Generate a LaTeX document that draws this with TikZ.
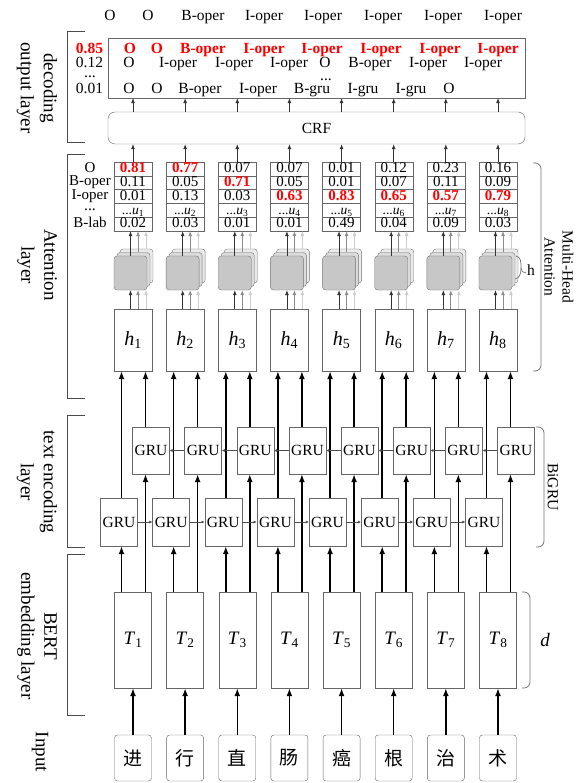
\documentclass[tikz,border=0pt]{standalone}
\usepackage{fontspec}
\setmainfont{Liberation Serif}
\newfontfamily\cjk{Noto Sans CJK SC}
\usetikzlibrary{arrows.meta}

\newcommand{\best}[1]{{\color{red}\bfseries #1}}

\tikzset{
  cell/.style={draw=black!60, fill=white, inner sep=0pt, minimum width=37pt,
    font=\fontsize{15.5}{16}\selectfont},
  grubox/.style={cell, minimum height=48pt},
  charbox/.style={cell, rounded corners=3pt, minimum height=46pt,
    font=\fontsize{19}{20}\selectfont\cjk},
  vecbox/.style={cell, minimum height=96pt, font=\fontsize{19}{20}\selectfont},
  hidbox/.style={cell, minimum width=38pt, minimum height=62pt,
    font=\fontsize{20}{20}\selectfont},
  headbox/.style={draw=black!55, fill=black!22, rounded corners=3pt,
    minimum width=33pt, minimum height=34pt, inner sep=0pt},
  probcell/.style={cell, minimum width=38pt, minimum height=13.8pt,
    text height=9.5pt, text depth=2pt, font=\fontsize{15}{15}\selectfont},
  txt/.style={inner sep=0pt, text height=10.5pt, text depth=3pt,
    font=\fontsize{15.5}{16}\selectfont},
  dots/.style={txt, anchor=base, text height=2pt, text depth=0pt},
  rowname/.style={inner sep=0pt, text height=9pt, text depth=2.5pt,
    font=\fontsize{15}{15}\selectfont},
  mainarrow/.style={-{Latex[length=8pt,width=6pt]}, line width=1.5pt},
  thinarrow/.style={-{Latex[length=5pt,width=4pt]}, line width=0.7pt, black!80},
  linkarrow/.style={-{Latex[length=3pt,width=3pt]}, line width=0.6pt, black!70},
  lbracket/.style={draw=black!70, line width=0.8pt},
  rbrace/.style={draw=black!55, line width=0.8pt, rounded corners=6pt},
  sidelabel/.style={rotate=-90, align=center, inner sep=0pt,
    font=\fontsize{19}{23}\selectfont},
}

\begin{document}
\begin{tikzpicture}[x=1pt,y=-1pt]
  % Parameters of the grid (y grows downward, like the page)
  \def\colA{133} % centre of the first column
  \def\colStep{52.14} % distance between neighbouring columns
  \useasboundingbox (0,0) rectangle (579,783);

  % CRF and the decoding output box
  \node[draw=black!60, rounded corners=7pt, minimum width=417pt, minimum height=32pt,
    font=\fontsize{15.5}{16}\selectfont] (crf) at (316.5,128) {CRF};
  \node[draw=black!60, minimum width=417pt, minimum height=60pt] (out) at (316.5,68) {};

  % Columns: input character, BERT vector, two GRUs, hidden state, heads
  \foreach \ch [count=\i] in {进,行,直,肠,癌,根,治,术}{
    \pgfmathsetmacro{\cx}{\colA+(\i-1)*\colStep}
    \coordinate (L\i) at (\cx-11.5,0); % forward path
    \coordinate (R\i) at (\cx+12.5,0); % backward path
    \coordinate (A\i) at (\cx-2.5,0); % head 1
    \coordinate (B\i) at (\cx+5,0); % head 2
    \coordinate (C\i) at (\cx+13,0); % head 3
    \coordinate (M\i) at (\cx,0); % to CRF and output
    \node[charbox] (in\i) at (\cx,758) {\ch};
    \node[vecbox] (T\i) at (\cx,640) {\textit{T}\textsubscript{\i}};
    \node[grubox] (fw\i) at (\cx-14,522) {GRU};
    \node[grubox, minimum height=47pt] (bw\i) at (\cx+18,450.5) {GRU};
    \node[hidbox] (h\i) at (\cx,340) {\textit{h}\textsubscript{\i}};
    \node[headbox, fill=black!8] (hc\i) at (\cx+3.5,266) {};
    \node[headbox, fill=black!14] (hb\i) at (\cx+0.5,269.5) {};
    \node[headbox] (ha\i) at (\cx-2.5,273) {};
    \draw[mainarrow] (in\i) -- (T\i);
    \draw[mainarrow] (L\i |- T\i.north) -- (L\i |- fw\i.south);
    \draw[mainarrow] (R\i |- T\i.north) -- (R\i |- bw\i.south);
    \draw[mainarrow] (L\i |- fw\i.north) -- (L\i |- h\i.south);
    \draw[mainarrow] (R\i |- bw\i.north) -- (R\i |- h\i.south);
    \draw[thinarrow] (A\i |- h\i.north) -- (A\i |- ha\i.south);
    \draw[thinarrow, black!45] (B\i |- h\i.north) -- (B\i |- ha\i.south);
    \draw[thinarrow, black!20] (C\i |- h\i.north) -- (C\i |- ha\i.south);
    \draw[thinarrow] (M\i |- crf.north) -- (M\i |- out.south);
  }

  % GRU chains (forward to the right, backward to the left)
  \foreach \i in {1,...,7}{
    \pgfmathtruncatemacro{\j}{\i+1}
    \draw[linkarrow] (fw\i) -- (fw\j);
    \draw[linkarrow] (bw\j) -- (bw\i);
  }

  % Attention scores (rows: O, B-oper, I-oper, ..., B-lab)
  \foreach \pa/\pb/\pc/\pe [count=\i] in {\best{0.81}/0.11/0.01/0.02,
      \best{0.77}/0.05/0.13/0.03, 0.07/\best{0.71}/0.03/0.01,
      0.07/0.05/\best{0.63}/0.01, 0.01/0.01/\best{0.83}/0.49,
      0.12/0.07/\best{0.65}/0.04, 0.23/0.11/\best{0.57}/0.09,
      0.16/0.09/\best{0.79}/0.03}{
    \pgfmathsetmacro{\cx}{\colA+(\i-1)*\colStep}
    \node[probcell] (p\i-1) at (\cx,168.9) {\pa};
    \node[probcell] (p\i-2) at (\cx,182.7) {\pb};
    \node[probcell] (p\i-3) at (\cx,196.5) {\pc};
    \node[probcell, font=\fontsize{13.5}{14}\selectfont] (p\i-4) at (\cx,210.3)
      {...\textit{u}\textsubscript{\i}};
    \node[probcell] (p\i-5) at (\cx,224.1) {\pe};
    \draw[thinarrow] (A\i |- ha\i.north) -- (A\i |- p\i-5.south);
    \draw[thinarrow, black!45] (B\i |- hb\i.north) -- (B\i |- p\i-5.south);
    \draw[thinarrow, black!20] (C\i |- hc\i.north) -- (C\i |- p\i-5.south);
    \draw[thinarrow] (p\i-1) -- (p\i-1.north |- crf.south);
  }
  \node[rowname] (rowO) at (90,168.9) {O};
  \node[rowname] (rowB) at (90,182.7) {B-oper};
  \node[rowname] (rowI) at (90,196.5) {I-oper};
  \node[dots] (rowdots) at (90,211) {...};
  \node[rowname] (rowlab) at (90,224.1) {B-lab};

  % Label sequences above and inside the output box
  \foreach \x/\t [count=\k] in {110/O,148/O,203/B-oper,264/I-oper,323/I-oper,
      383/I-oper,443/I-oper,503/I-oper}
    \node[txt] (tag\k) at (\x,17) {\t};
  \foreach \x/\t [count=\k] in {130/O,157/O,203/B-oper,264/I-oper,322/I-oper,
      381/I-oper,440/I-oper,498/I-oper}
    \node[txt] (seqA\k) at (\x,50) {\best{\t}};
  \foreach \x/\t [count=\k] in {129/O,178/I-oper,234/I-oper,289/I-oper,325/O,
      370/B-oper,428/I-oper,483/I-oper}
    \node[txt] (seqB\k) at (\x,64) {\t};
  \foreach \x/\t [count=\k] in {129/O,157/O,200/B-oper,258/I-oper,312/B-gru,
      363/I-gru,411/I-gru,449/O}
    \node[txt] (seqC\k) at (\x,90) {\t};
  \node[dots] (seqdots) at (326,81) {...};
  \node[txt] (scoreA) at (89.5,50) {\best{0.85}};
  \node[txt] (scoreB) at (89.5,64) {0.12};
  \node[dots] (scoredots) at (90,78) {...};
  \node[txt] (scoreC) at (89.5,90) {0.01};

  % Layer brackets and names on the left
  \draw[lbracket] (85,31) -- (67,31) -- (67,142) -- (85,142);
  \draw[lbracket] (85,154) -- (67,154) -- (67,398) -- (85,398);
  \draw[lbracket] (85,415) -- (67,415) -- (67,547) -- (85,547);
  \draw[lbracket] (85,554) -- (67,554) -- (67,715) -- (85,715);
  \node[sidelabel] (decLab) at (37,88) {decoding\\output layer};
  \node[sidelabel] (attLab) at (37,265) {Attention\\layer};
  \node[sidelabel] (encLab) at (37,482) {text encoding\\layer};
  \node[sidelabel] (bertLab) at (37,636) {BERT\\embedding layer};
  \node[sidelabel] (inLab) at (40,752) {Input};

  % Braces and names on the right
  \draw[rbrace] (533,163) -- (541,163) -- (541,371) -- (533,371);
  \node[sidelabel, font=\fontsize{15.5}{18}\selectfont] (mhaLab) at (559,267)
    {Multi-Head\\Attention};
  \draw[rbrace] (536,427) -- (544,427) -- (544,547) -- (536,547);
  \node[sidelabel, font=\fontsize{15.5}{18}\selectfont] (bigruLab) at (553,487) {BiGRU};
  \draw[rbrace] (522,592) -- (530,592) -- (530,688) -- (522,688);
  \node[font=\fontsize{19}{20}\selectfont\itshape] (dLab) at (545,640) {d};
  \draw[black!55, line width=0.7pt] (516,256) .. controls (521,257) and (521,262) .. (521,268)
    .. controls (521,271) and (523,273) .. (526,273);
  \draw[black!55, line width=0.7pt] (521,268) .. controls (521,275) and (519,278) .. (515,279);
  \node[txt] (headLab) at (531,272) {h};
\end{tikzpicture}
\end{document}
